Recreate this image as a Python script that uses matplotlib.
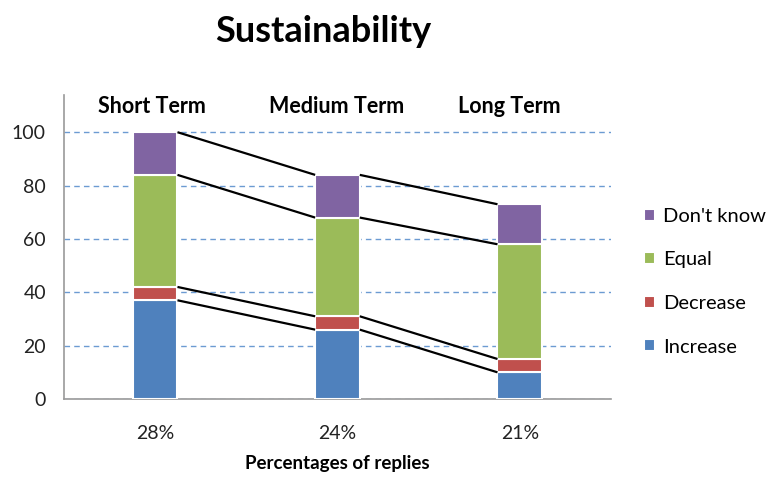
import matplotlib
matplotlib.use("Agg")
import matplotlib.pyplot as plt
import numpy as np

# Data
reply_share = ["28%", "24%", "21%"]
horizons = ["Short Term", "Medium Term", "Long Term"]
series_names = ["Increase", "Decrease", "Equal", "Don't know"]
increase = [37, 26, 10]
decrease = [5, 5, 5]
equal = [42, 37, 43]
dont_know = [16, 16, 15]
colors = ["#4F81BD", "#C0504D", "#9BBB59", "#8064A2"]

plt.rcParams["font.family"] = ["Lato", "DejaVu Sans"]

fig = plt.figure(figsize=(7.67, 4.79), dpi=100)
ax = fig.add_axes([0.0834, 0.167, 0.7132, 0.635])

x = np.arange(len(reply_share))
width = 0.245
values = [increase, decrease, equal, dont_know]
bottom = np.zeros(len(x))
tops = []
handles = []
for name, vals, col in zip(series_names, values, colors):
    h = ax.bar(x, vals, width, bottom=bottom, color=col, edgecolor="white",
               linewidth=1.5, label=name, zorder=3)
    handles.append(h)
    bottom = bottom + np.array(vals)
    tops.append(bottom.copy())

# Series lines joining segment tops between neighbouring bars
for t in tops:
    for i in range(len(x) - 1):
        ax.plot([x[i] + width / 2, x[i + 1] - width / 2], [t[i], t[i + 1]],
                color="black", linewidth=1.6, zorder=4,
                solid_capstyle="butt")

ax.set_xlim(-0.5, 2.5)
ax.set_ylim(0, 114)
ax.set_yticks(range(0, 101, 20))
ax.yaxis.grid(True, linestyle=(0, (4, 3)), color="#6C9BD2", linewidth=1.0,
              zorder=0)
ax.set_xticks(x)
ax.set_xticklabels(reply_share)
ax.tick_params(axis="both", length=0, labelsize=14, colors="#222222")
ax.tick_params(axis="y", pad=13)
ax.tick_params(axis="x", pad=19)
for s in ["top", "right"]:
    ax.spines[s].set_visible(False)
for s in ["left", "bottom"]:
    ax.spines[s].set_color("#9a9a9a")
    ax.spines[s].set_linewidth(1.2)

ax.set_xlabel("Percentages of replies", fontsize=13.5, fontweight="bold",
              labelpad=9)

# Horizon captions above each bar
caption_shift = [-0.02, -0.005, -0.055]
for xi, lbl, dx in zip(x, horizons, caption_shift):
    ax.text(xi + dx, 109.5, lbl, ha="center", va="center", fontsize=15.5,
            fontweight="bold")

fig.text(0.421, 0.935, "Sustainability", ha="center", va="center",
         fontsize=26, fontweight="bold")

leg = fig.legend(handles[::-1], series_names[::-1], loc="upper left",
                 bbox_to_anchor=(0.829, 0.583), frameon=False, fontsize=14.5,
                 handlelength=0.55, handleheight=0.55, handletextpad=0.4,
                 labelspacing=1.32, borderaxespad=0)

fig.savefig("out.png", dpi=100)
